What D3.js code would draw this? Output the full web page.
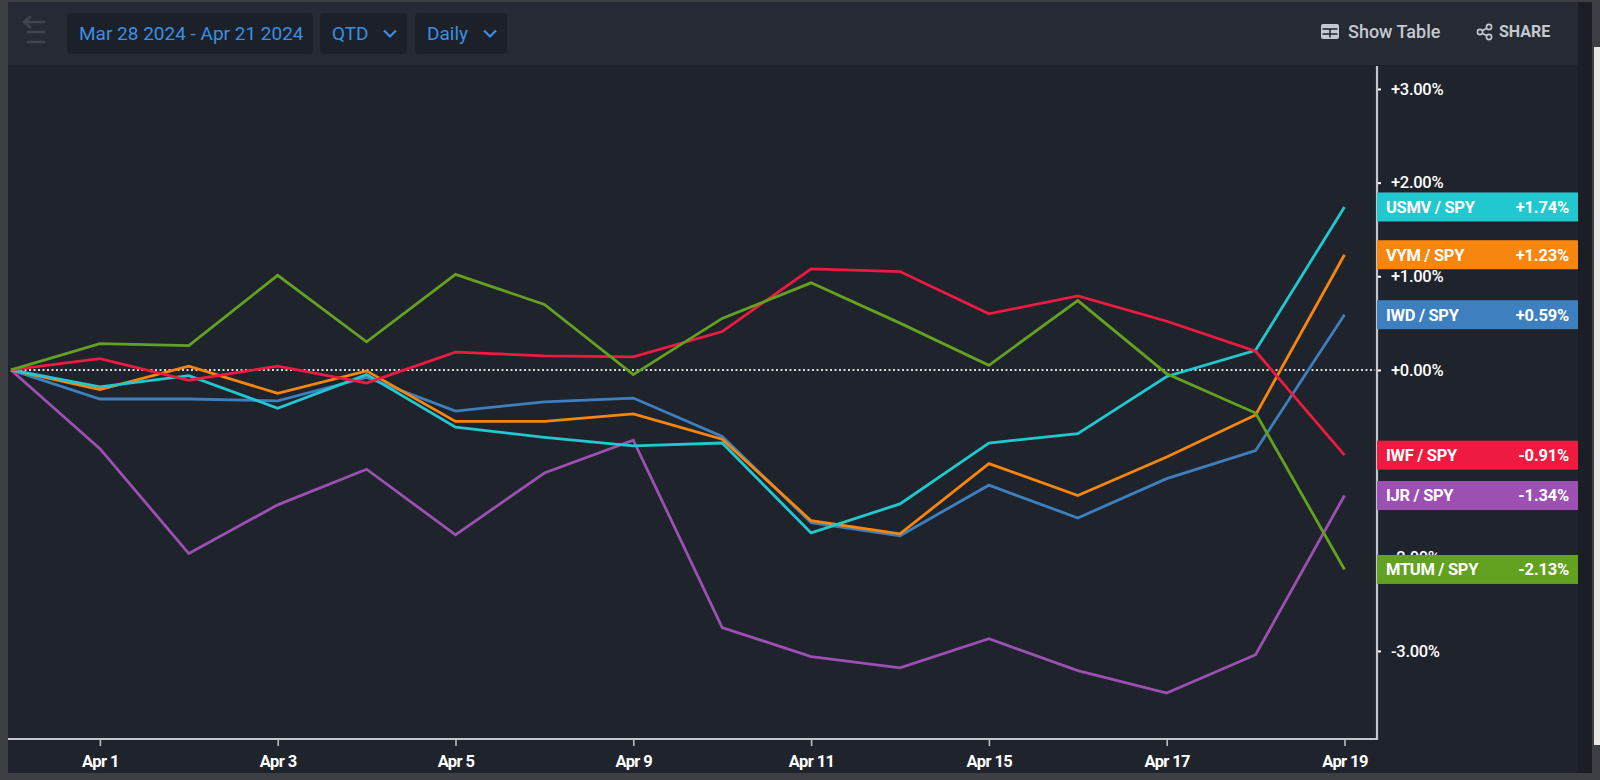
<!DOCTYPE html>
<html>
<head>
<meta charset="utf-8">
<script src="https://cdn.jsdelivr.net/npm/d3@7"></script>
<style>
  html, body { margin: 0; padding: 0; background: #3c3f44; }
  svg { display: block; }
  text { font-family: Roboto, "Noto Sans", sans-serif; }
</style>
</head>
<body>
<svg id="chart" width="1600" height="780"></svg>
<script>
// ---------- DATA ----------
const dates = ["Mar 28","Apr 1","Apr 2","Apr 3","Apr 4","Apr 5","Apr 8","Apr 9","Apr 10","Apr 11","Apr 12","Apr 15","Apr 16","Apr 17","Apr 18","Apr 19"];
const xTickLabels = ["Apr 1","Apr 3","Apr 5","Apr 9","Apr 11","Apr 15","Apr 17","Apr 19"];
const yTickValues = [3, 2, 1, 0, -2, -3];

const seriesNames = ["USMV / SPY","VYM / SPY","IWD / SPY","IWF / SPY","IJR / SPY","MTUM / SPY"];
const seriesColors = ["#22c8d0","#f7860f","#3d7fbf","#ee1a40","#9b50b2","#63a220"];

const usmv = [0,-0.18,-0.06,-0.41,-0.05,-0.61,-0.72,-0.81,-0.78,-1.74,-1.43,-0.78,-0.68,-0.07,0.21,1.74];
const vym  = [0,-0.21,0.04,-0.25,-0.01,-0.55,-0.55,-0.47,-0.74,-1.61,-1.75,-1.00,-1.34,-0.93,-0.48,1.23];
const iwd  = [0,-0.31,-0.31,-0.33,-0.08,-0.44,-0.34,-0.30,-0.71,-1.63,-1.77,-1.23,-1.58,-1.16,-0.86,0.59];
const iwf  = [0,0.12,-0.11,0.04,-0.14,0.19,0.15,0.14,0.41,1.08,1.05,0.60,0.79,0.52,0.20,-0.91];
const ijr  = [0,-0.84,-1.96,-1.44,-1.06,-1.76,-1.10,-0.75,-2.75,-3.06,-3.18,-2.87,-3.21,-3.45,-3.04,-1.34];
const mtum = [0,0.28,0.26,1.01,0.30,1.02,0.70,-0.05,0.55,0.93,0.50,0.05,0.74,-0.04,-0.46,-2.13];

const seriesValues = [usmv, vym, iwd, iwf, ijr, mtum];
const drawOrder = [4, 2, 1, 0, 3, 5];

const headerRange = "Mar 28 2024 - Apr 21 2024";
const headerPeriod = "QTD";
const headerFreq = "Daily";

// ---------- LAYOUT ----------
const svg = d3.select("#chart");
const W = 1600, H = 780;
const plotLeft = 8, plotRight = 1377, plotTop = 66, plotBottom = 739;

// backgrounds
svg.append("rect").attr("x", 0).attr("y", 0).attr("width", W).attr("height", H).attr("fill", "#3c3f44");
svg.append("rect").attr("x", 8).attr("y", 2).attr("width", 1584).attr("height", 771).attr("fill", "#1b1e24");
svg.append("rect").attr("x", 8).attr("y", 2).attr("width", 1570).attr("height", 771).attr("fill", "#1f232c");
svg.append("rect").attr("x", 8).attr("y", 2).attr("width", 1570).attr("height", 63).attr("fill", "#262a33");
svg.append("rect").attr("x", 1594).attr("y", 47).attr("width", 6).attr("height", 698).attr("fill", "#e8e8e8");

// ---------- SCALES ----------
const x = d3.scalePoint().domain(dates).range([11, 1344.5]);
const y = d3.scaleLinear().domain([-3.94, 3.245]).range([plotBottom, plotTop]);

// zero dotted line
svg.append("line")
  .attr("x1", 11).attr("x2", plotRight - 2)
  .attr("y1", y(0)).attr("y2", y(0))
  .attr("stroke", "#d8d8d8").attr("stroke-width", 2)
  .attr("stroke-dasharray", "2,2.5");

// ---------- LINES ----------
const line = d3.line().x((d, i) => x(dates[i])).y(d => y(d));
svg.append("g").selectAll("path")
  .data(drawOrder)
  .join("path")
  .attr("d", k => line(seriesValues[k]))
  .attr("fill", "none")
  .attr("stroke", k => seriesColors[k])
  .attr("stroke-width", 2.8)
  .attr("stroke-linejoin", "miter");

// ---------- X AXIS ----------
const xAxis = d3.axisBottom(x)
  .tickValues(xTickLabels)
  .tickSize(7)
  .tickPadding(9);
const gx = svg.append("g").attr("transform", `translate(0,${plotBottom})`).call(xAxis);
gx.select(".domain").remove();
gx.append("line").attr("x1", plotLeft).attr("x2", plotRight + 1).attr("y1", 0).attr("y2", 0)
  .attr("stroke", "#c3c7cc").attr("stroke-width", 2.2);
gx.selectAll(".tick line").attr("stroke", "#c3c7cc").attr("stroke-width", 1.5);
gx.selectAll(".tick text")
  .attr("fill", "#ffffff")
  .style("font-size", "16.5px")
  .style("font-weight", "700")
  .style("letter-spacing", "-0.6px")
  .style("font-family", "Roboto, sans-serif");

// ---------- Y AXIS ----------
const fmt = v => (v >= 0 ? "+" : "") + v.toFixed(2) + "%";
const yAxis = d3.axisRight(y).tickValues(yTickValues).tickSize(4).tickPadding(10).tickFormat(fmt);
const gy = svg.append("g").attr("transform", `translate(${plotRight},0)`).call(yAxis);
gy.select(".domain").remove();
gy.append("line").attr("x1", 0).attr("x2", 0).attr("y1", plotTop).attr("y2", plotBottom + 1)
  .attr("stroke", "#c3c7cc").attr("stroke-width", 2.2);
gy.selectAll(".tick line").attr("stroke", "#ffffff").attr("stroke-width", 2);
gy.selectAll(".tick text")
  .attr("fill", "#ffffff")
  .style("font-size", "16.5px")
  .style("font-weight", "500")
  .style("letter-spacing", "-0.3px");

// ---------- LAST VALUE LABELS ----------
const boxW = 201, boxH = 29;
const labels = svg.append("g").selectAll("g")
  .data(seriesNames.map((n, k) => ({ name: n, k: k, v: seriesValues[k][seriesValues[k].length - 1] })))
  .join("g")
  .attr("transform", d => `translate(${plotRight},${y(d.v)})`);
labels.append("rect")
  .attr("x", 0).attr("y", -boxH / 2).attr("width", boxW).attr("height", boxH)
  .attr("fill", d => seriesColors[d.k]);
labels.append("text")
  .attr("x", 9).attr("y", 0).attr("dy", "0.36em")
  .attr("fill", "#ffffff")
  .style("font-size", "16.5px").style("font-weight", "700").style("letter-spacing", "-0.3px")
  .text(d => d.name);
labels.append("text")
  .attr("x", boxW - 9).attr("y", 0).attr("dy", "0.36em")
  .attr("text-anchor", "end")
  .attr("fill", "#ffffff")
  .style("font-size", "16.5px").style("font-weight", "700").style("letter-spacing", "-0.2px")
  .text(d => fmt(d.v));

// ---------- HEADER ----------
const hdr = svg.append("g");
// back/collapse icon
hdr.append("path")
  .attr("d", "M24 22 L44 22 M24 22 L30 17 M24 22 L30 27 M28 32 L44 32 M28 42 L44 42")
  .attr("stroke", "#3f4651").attr("stroke-width", 2.6).attr("fill", "none").attr("stroke-linecap", "round");

const buttons = [
  { x: 67, w: 246, label: headerRange, chevron: false },
  { x: 320, w: 87, label: headerPeriod, chevron: true },
  { x: 415, w: 92, label: headerFreq, chevron: true }
];
const btn = hdr.selectAll("g.btn").data(buttons).join("g").attr("class", "btn")
  .attr("transform", d => `translate(${d.x},13)`);
btn.append("rect").attr("width", d => d.w).attr("height", 41).attr("rx", 4).attr("fill", "#1c2028");
btn.append("text")
  .attr("x", 12).attr("y", 20.5).attr("dy", "0.35em")
  .attr("fill", "#3a8fe3")
  .style("font-size", "19px")
  .text(d => d.label);
btn.filter(d => d.chevron).append("path")
  .attr("d", d => { const cx = d.w - 17; return `M${cx - 6} 17.5 L${cx} 23.5 L${cx + 6} 17.5`; })
  .attr("stroke", "#3a8fe3").attr("stroke-width", 2.2).attr("fill", "none");

// Show Table
const st = hdr.append("g").attr("transform", "translate(1321,24)");
st.append("rect").attr("width", 18).attr("height", 15).attr("rx", 2).attr("fill", "#c4c9cf");
st.append("line").attr("x1", 1.5).attr("x2", 16.5).attr("y1", 5).attr("y2", 5).attr("stroke", "#262a33").attr("stroke-width", 1.6);
st.append("line").attr("x1", 1.5).attr("x2", 16.5).attr("y1", 10).attr("y2", 10).attr("stroke", "#262a33").attr("stroke-width", 1.6);
st.append("line").attr("x1", 9).attr("x2", 9).attr("y1", 5).attr("y2", 13.5).attr("stroke", "#262a33").attr("stroke-width", 1.6);
hdr.append("text").attr("x", 1348).attr("y", 31.5).attr("dy", "0.35em")
  .attr("fill", "#c4c9cf").style("font-size", "18px").style("font-weight", "500")
  .text("Show Table");

// Share
const sh = hdr.append("g").attr("transform", "translate(1476,24)");
sh.append("path").attr("d", "M4 8 L13 3 M4 8 L13 13").attr("stroke", "#c4c9cf").attr("stroke-width", 1.6).attr("fill", "none");
[[4, 8], [13, 3], [13, 13]].forEach(p => {
  sh.append("circle").attr("cx", p[0]).attr("cy", p[1]).attr("r", 2.6)
    .attr("fill", "#262a33").attr("stroke", "#c4c9cf").attr("stroke-width", 1.6);
});
hdr.append("text").attr("x", 1499).attr("y", 31.5).attr("dy", "0.35em")
  .attr("fill", "#c4c9cf").style("font-size", "16px").style("font-weight", "700")
  .text("SHARE");
</script>
</body>
</html>
